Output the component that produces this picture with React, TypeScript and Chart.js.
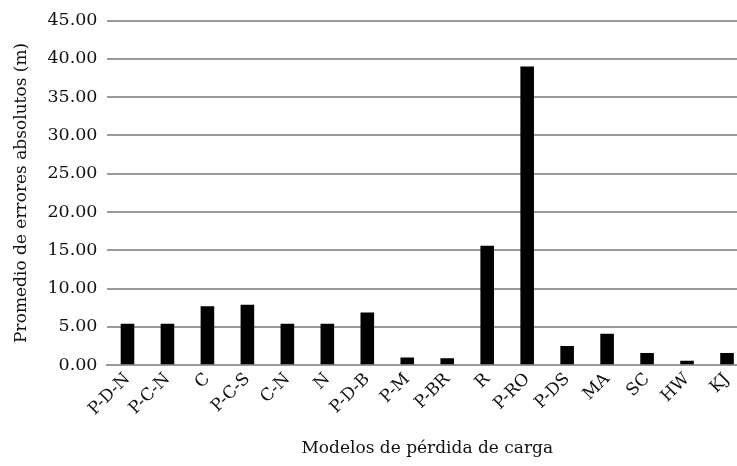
import React, { useEffect, useRef } from "react";
import { Chart, registerables } from "chart.js";

Chart.register(...registerables);

const categories = ["P-D-N", "P-C-N", "C", "P-C-S", "C-N", "N", "P-D-B", "P-M", "P-BR", "R", "P-RO", "P-DS", "MA", "SC", "HW", "KJ"];
const values = [5.4, 5.4, 7.7, 7.9, 5.4, 5.4, 6.9, 1.0, 0.9, 15.6, 39.0, 2.5, 4.1, 1.6, 0.6, 1.6];
const yTitle = "Promedio de errores absolutos (m)";
const xTitle = "Modelos de pérdida de carga";

const FONT = "'DejaVu Serif', serif";

export default function App() {
  const ref = useRef<HTMLCanvasElement | null>(null);
  useEffect(() => {
    if (!ref.current) return;
    const chart = new Chart(ref.current, {
      type: "bar",
      data: {
        labels: categories,
        datasets: [{ data: values, backgroundColor: "#000", barPercentage: 0.34, categoryPercentage: 1 }],
      },
      options: {
        animation: false,
        responsive: false,
        maintainAspectRatio: false,
        layout: { padding: { top: 12, right: 13, left: 7, bottom: 7 } },
        plugins: { legend: { display: false }, tooltip: { enabled: false } },
        scales: {
          x: {
            grid: { display: false, drawTicks: false },
            border: { display: true, color: "#9a9a9a", width: 2 },
            ticks: { color: "#111", font: { family: FONT, size: 17 }, minRotation: 45, maxRotation: 45, padding: 4, autoSkip: false },
            title: { display: true, text: xTitle, color: "#111", font: { family: FONT, size: 17 }, padding: { top: 15, bottom: 0 } },
          },
          y: {
            min: 0,
            max: 45,
            grid: { color: "#9a9a9a", lineWidth: 2, drawTicks: false },
            border: { display: false },
            ticks: { stepSize: 5, color: "#111", font: { family: FONT, size: 17.5 }, padding: 10, callback: (v: any) => Number(v).toFixed(2) },
            title: { display: true, text: yTitle, color: "#111", font: { family: FONT, size: 17 }, padding: { bottom: 6 } },
          },
        },
      },
    });
    return () => chart.destroy();
  }, []);
  return (
    <div style={{ position: "absolute", left: 0, top: 0, width: 760, height: 466 }}>
      <canvas ref={ref} width={760} height={466} style={{ display: "block" }} />
    </div>
  );
}
